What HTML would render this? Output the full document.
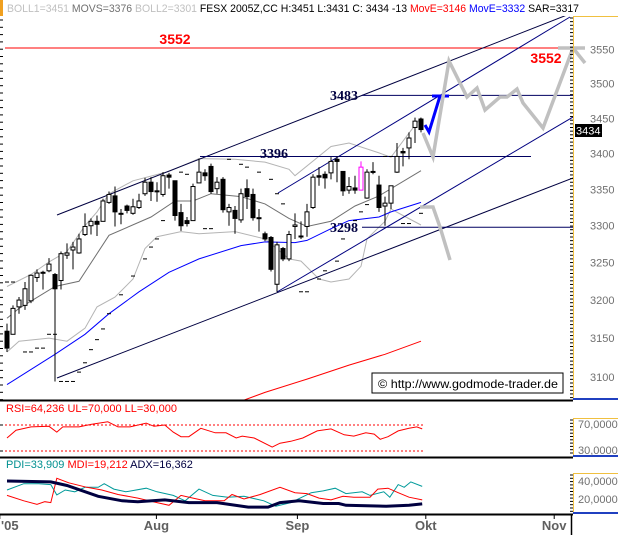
<!DOCTYPE html>
<html><head><meta charset="utf-8"><style>
html,body{margin:0;padding:0;background:#fff;}
svg{display:block;font-family:"Liberation Sans",Arial,sans-serif;}
</style></head><body>
<svg id="chart" width="618" height="535" viewBox="0 0 618 535" xmlns="http://www.w3.org/2000/svg">
<rect x="0" y="0" width="618" height="535" fill="#fff"/>
<rect x="0" y="0" width="3" height="16" fill="#f0a020"/>
<text x="7" y="12" font-size="11" textLength="572" lengthAdjust="spacingAndGlyphs"><tspan fill="#c0c0c0">BOLL1=3451 </tspan><tspan fill="#707070">MOVS=3376 </tspan><tspan fill="#c0c0c0">BOLL2=3301 </tspan><tspan fill="#000">FESX 2005Z,CC H:3451 L:3431 C: 3434 -13 </tspan><tspan fill="#ff0000">MovE=3146 </tspan><tspan fill="#0000ff">MovE=3332 </tspan><tspan fill="#000">SAR=3317</tspan></text>
<g id="main"></g>
<g id="axes"></g>
<g id="rsi"></g>
<g id="adx"></g>
</svg>
<script>
const opens  = [3159,3155,3191,3193,3199,3230,3237,3239,3234,3226,3260,3267,3263,3288,3300,3306,3306,3332,3341,3317,3327,3317,3325,3344,3360,3347,3343,3370,3362,3318,3307,3307,3359,3373,3382,3351,3364,3319,3321,3308,3351,3343,3311,3289,3284,3221,3269,3255,3299,3285,3299,3325,3369,3371,3373,3392,3375,3349,3352,3349,3338,3375,3356,3327,3331,3374,3403,3408,3437,3449];
const highs  = [3169,3193,3204,3224,3234,3241,3239,3256,3236,3265,3276,3278,3289,3317,3310,3314,3337,3347,3354,3323,3329,3337,3344,3366,3367,3360,3374,3373,3362,3330,3312,3358,3393,3378,3386,3367,3367,3330,3327,3351,3364,3351,3323,3292,3286,3278,3271,3293,3317,3306,3330,3371,3381,3375,3395,3396,3375,3367,3369,3389,3378,3388,3369,3340,3355,3415,3408,3430,3451,3451];
const lows   = [3132,3155,3182,3187,3196,3224,3214,3237,3094,3214,3255,3241,3262,3286,3288,3286,3306,3330,3299,3302,3317,3315,3323,3341,3334,3333,3340,3351,3307,3293,3299,3307,3359,3362,3344,3344,3318,3300,3289,3304,3323,3307,3292,3279,3238,3211,3252,3252,3282,3282,3285,3323,3355,3351,3364,3360,3341,3344,3344,3349,3337,3371,3319,3300,3323,3373,3382,3392,3415,3430];
const closes = [3137,3189,3200,3215,3233,3236,3236,3248,3215,3262,3263,3271,3282,3299,3306,3302,3334,3343,3319,3316,3321,3326,3334,3360,3347,3348,3369,3367,3314,3300,3303,3354,3374,3369,3347,3360,3322,3325,3310,3344,3340,3311,3310,3282,3241,3274,3255,3288,3301,3286,3319,3367,3367,3366,3389,3389,3348,3354,3349,3381,3374,3374,3325,3331,3355,3396,3401,3422,3446,3434];
const highlightIdx = [59];
const midIdx = [0,2,8,12,17,24,28,31,34,39,43,47,50,54,58,62,69];
const midVal = [3176,3189,3218,3225,3287,3312,3334,3334,3344,3340,3330,3310,3299,3306,3327,3341,3376];
const upIdx = [0,4,7,10,13,15,17,21,27,32,38,43,47,48,54,57,62,64,67,69];
const upVal = [3218,3234,3251,3265,3300,3319,3344,3362,3375,3393,3392,3388,3378,3369,3410,3415,3401,3395,3429,3451];
const loIdx = [0,2,7,10,13,15,18,21,23,25,29,32,38,43,47,49,52,54,57,59,60,63,64,66,69];
const loVal = [3132,3146,3150,3146,3163,3191,3204,3228,3269,3285,3292,3289,3292,3282,3255,3252,3228,3224,3228,3245,3282,3306,3323,3314,3301];
const blueIdx = [0,8,13,17,22,27,32,39,43,48,50,54,57,62,64,69];
const blueVal = [3090,3129,3155,3182,3211,3237,3255,3273,3278,3277,3280,3296,3307,3312,3319,3332];
const redIdx = [38,43,50,57,63,69];
const redVal = [3066,3080,3097,3115,3129,3146];
const sarIdx = [0,1,3,4,5,6,7,8,9,10,11,12,13,14,15,16,17,19,21,23,24,25,26,29,30,33,34,37,39,40,42,44,45,46,49,50,52,53,55,56,58,59,60,63,64,66,67,69];
const sarVal = [3224,3224,3132,3132,3137,3137,3155,3155,3094,3094,3094,3106,3118,3135,3148,3162,3182,3207,3232,3255,3271,3282,3307,3374,3371,3296,3296,3392,3385,3381,3374,3364,3344,3330,3211,3211,3228,3239,3252,3282,3307,3319,3329,3396,3396,3303,3303,3317];
const priceTicks = [3550,3500,3450,3400,3350,3300,3250,3200,3150,3100];
const rsiIdx = [0,1.5,4,7,8.3,9.3,12,14,16.8,18.5,20.5,23.2,24.5,26.3,27.7,29,30.3,32.3,34.7,36.5,38.2,39.2,41.2,44.2,45.5,47.3,49.3,51.7,54,56.2,57.8,59.8,61.2,62.2,63.5,65.2,67,68.3,69.2];
const rsiVal = [50,62,67,68,59,67,67,71,75,67,67,73,68,70,59,52,52,65,58,58,50,53,50,36,42,45,50,61,64,55,53,58,56,48,52,61,65,67,64];
const rsiLevels = [70,30];
const pdiIdx = [0,2.8,5.3,7.3,8.3,9.7,11.3,13,15.2,16.2,17.8,19.8,23.2,25,27.7,29.7,32,34.3,36.8,39.5,42.8,44.8,47.3,50.7,52.7,54.7,56.5,59.2,60.5,62.8,63.8,65.2,66.2,67.3,69.2];
const pdiVal = [30,37,37,36,24.5,30,28,33,33,37,31,28,32,28,24,18,31,24,22,23,18,12,16,27,29,32,26,28,24,28,22,36,33,39,34];
const mdiIdx = [0,2.8,5,6.3,7.3,8.3,10.3,13.3,15.8,18.5,21.8,25,27,29,31,33,36.2,37.5,39.5,42.2,45.5,48,50,52,54,56,57.8,60.5,61.8,63.5,65.2,67,69.2];
const mdiVal = [24,18,14,17,16,43,38,33,30,25,21,16,13,24,21,18,18,25,20,25,33,27,26,21,19,23,22,22,31,32,27,22,19];
const adxIdx = [0,7.3,10,15.2,19.2,21.8,26.3,30.3,35,40.2,43.5,45.5,48.7,52.7,55.3,56.5,63.2,67,69.2];
const adxVal = [40,39,35,23,18,17,19,16,16,11,11,16,18,15,15,13,12,13,14.5];
const oscTicksRsi = ["70,0000","30,0000"];
const oscTicksAdx = ["40,0000","20,0000"];
const months = ["'05","Aug","Sep","Okt","Nov"];
const monthIdx = [-1.2,24.9,48.4,69.8,91.2];

const NS="http://www.w3.org/2000/svg";
function mk(tag,attrs,parent){const e=document.createElementNS(NS,tag);for(const k in attrs)e.setAttribute(k,attrs[k]);parent.appendChild(e);return e;}
const xS=i=>7+6*i;
const yS=v=>49.3+(Math.log(3550)-Math.log(v))*2416;
const rY=v=>451-(v-30)*0.65;
const aY=v=>499-(v-20)*0.9;
const main=document.getElementById('main');
const axes=document.getElementById('axes');
const rsiG=document.getElementById('rsi');
const adxG=document.getElementById('adx');
const defs=mk('defs',{},main);
const cp=mk('clipPath',{id:'mclip'},defs);
mk('rect',{x:0,y:16,width:573,height:384},cp);
const plot=mk('g',{'clip-path':'url(#mclip)'},main);

function poly(idx,val,ys,attrs,parent,name){
  const pts=idx.map((i,k)=>xS(i).toFixed(1)+','+ys(val[k]).toFixed(1)).join(' ');
  const p=mk('polyline',Object.assign({points:pts,fill:'none'},attrs),parent);
  
  
  return p;
}
poly(upIdx,upVal,yS,{stroke:'#b4b4b4','stroke-width':1},plot,'bollinger-upper');
poly(loIdx,loVal,yS,{stroke:'#b4b4b4','stroke-width':1},plot,'bollinger-lower');
poly(midIdx,midVal,yS,{stroke:'#707070','stroke-width':1},plot,'bollinger-middle');
poly(blueIdx,blueVal,yS,{stroke:'#0000ff','stroke-width':1},plot,'moving-average-blue');
poly(redIdx,redVal,yS,{stroke:'#ff0000','stroke-width':1},plot,'moving-average-red');

const ann=mk('g',{},plot);


const L=(x1,y1,x2,y2,c,w,n)=>{const l=mk('line',{x1,y1,x2,y2,stroke:c,'stroke-width':w},ann);};
L(5,yS(3552),573,yS(3552),'#ff0000',1,'resistance-3552');
L(57,215,567,15,'#000040',1,'channel-upper-line');
L(278,193,570,17,'#000080',1,'channel-mid-line');
L(277,292,573,117,'#000080',1,'channel-inner-line');
L(57,378,573,178,'#000040',1,'channel-lower-line');
L(200,yS(3396),531,yS(3396),'#000060',1,'level-3396');
L(362,yS(3483),573,yS(3483),'#000060',1,'level-3483');
L(362,yS(3298),573,yS(3298),'#000060',1,'level-3298');
const gp=mk('polyline',{points:'423,133 433,157 449,61 467,97 477,88 485,110 500,97 507,97 517,89 523,103 543,128 573,48',fill:'none',stroke:'#c0c0c0','stroke-width':3.5,'stroke-linejoin':'miter'},main);
 
const gp2=mk('polyline',{points:'420,207 433,207 440,227 450,260',fill:'none',stroke:'#c0c0c0','stroke-width':3.5},plot);
 
const bp=mk('polyline',{points:'425,125 429,132 440,96',fill:'none',stroke:'#0000ff','stroke-width':3},plot);
 
mk('line',{x1:432,y1:96,x2:449,y2:96,stroke:'#0000ff','stroke-width':3},plot);

sarIdx.forEach((i,k)=>{
  const d=mk('line',{x1:xS(i)-2,x2:xS(i)+2,y1:yS(sarVal[k]),y2:yS(sarVal[k]),stroke:'#000','stroke-width':1},plot);
  
  
});
opens.forEach((o,i)=>{
  const c=closes[i],x=xS(i);
  const col=highlightIdx.includes(i)?'#ff00ff':'#000';
  const g=mk('g',{},plot);
  
  
  mk('line',{x1:x,x2:x,y1:yS(highs[i]),y2:yS(lows[i]),stroke:col,'stroke-width':1},g);
  const top=yS(Math.max(o,c)),bot=yS(Math.min(o,c));
  mk('rect',{x:x-2,y:top,width:4,height:Math.max(1,bot-top),fill:c<o?col:'#fff',stroke:col,'stroke-width':1},g);
});

const T=(x,y,s,fill,size,name,anchor,extra)=>{const t=mk('text',Object.assign({x,y,fill,'font-size':size,'font-weight':'bold','text-anchor':anchor||'start'},extra||{}),main);t.textContent=s;return t;};
T(175,44,'3552','#ff0000',14,'label-3552-left','middle');
T(546,63,'3552','#ff0000',14,'label-3552-right','middle');
T(358,100,'3483','#000040',14,'label-3483','end',{'font-family':'Liberation Serif, serif'});
T(274,158,'3396','#000040',14,'label-3396','middle',{'font-family':'Liberation Serif, serif'});
T(358,232,'3298','#000040',14,'label-3298','end',{'font-family':'Liberation Serif, serif'});
const cb=mk('rect',{x:372,y:373,width:191,height:20,fill:'#fff',stroke:'#000','stroke-width':1},main);
 
const ct=mk('text',{x:378,y:388,'font-size':12,fill:'#000',textLength:180,lengthAdjust:'spacingAndGlyphs'},main);
ct.textContent='© http://www.godmode-trader.de';
 

for(let y=20;y<400;y+=7.3){mk('line',{x1:0,x2:3,y1:y,y2:y,stroke:'#000','stroke-width':1},axes);}
const ra=mk('g',{},axes);  
mk('line',{x1:573.5,y1:16,x2:573.5,y2:400,stroke:'#f0c040','stroke-width':1},ra);
mk('line',{x1:573,y1:16.5,x2:618,y2:16.5,stroke:'#f0c040','stroke-width':1},ra);
mk('line',{x1:573,y1:399,x2:618,y2:399,stroke:'#2040c0','stroke-width':2},ra);
for(let y=18;y<400;y+=3.65){mk('line',{x1:570,x2:573,y1:y,y2:y,stroke:'#000','stroke-width':1},ra);}
priceTicks.forEach(v=>{
  const t=mk('text',{x:590,y:yS(v)+4,'font-size':11,fill:'#707070'},ra);
  t.textContent=v;
  
  
});
mk('rect',{x:575,y:124,width:27,height:13,fill:'#000'},ra);
const lt=mk('text',{x:576,y:134.5,'font-size':11,fill:'#fff'},ra); lt.textContent='3434';
 
mk('line',{x1:558,y1:48,x2:585,y2:48,stroke:'#c0c0c0','stroke-width':3.5},main);
mk('line',{x1:573,y1:48,x2:585,y2:63,stroke:'#c0c0c0','stroke-width':3.5},main);

[400.5,457.5,514.5].forEach(y=>{mk('line',{x1:0,x2:573,y1:y,y2:y,stroke:'#000','stroke-width':2},axes);});

const rt=mk('text',{x:6,y:412,'font-size':11,fill:'#ff0000'},rsiG); rt.textContent='RSI=64,236 UL=70,000 LL=30,000';
 
rsiLevels.forEach(l=>{const d=mk('line',{x1:5,x2:425,y1:rY(l),y2:rY(l),stroke:'#ff0000','stroke-width':1,'stroke-dasharray':'2,2'},rsiG);});
poly(rsiIdx,rsiVal,rY,{stroke:'#ff0000','stroke-width':1},rsiG,'rsi-line');
mk('line',{x1:573.5,y1:418,x2:573.5,y2:457,stroke:'#f0c040'},rsiG);
mk('line',{x1:573,y1:418.5,x2:618,y2:418.5,stroke:'#f0c040'},rsiG);
mk('line',{x1:573,y1:456,x2:618,y2:456,stroke:'#2040c0','stroke-width':2},rsiG);
for(let y=420;y<456;y+=3.3){mk('line',{x1:570,x2:573,y1:y,y2:y,stroke:'#000'},rsiG);}
oscTicksRsi.forEach((s,k)=>{const t=mk('text',{x:578,y:rY(rsiLevels[k])+3,'font-size':11,fill:'#707070'},rsiG);t.textContent=s;});
mk('line',{x1:0,x2:3,y1:425,y2:425,stroke:'#000'},rsiG);
mk('line',{x1:0,x2:3,y1:451,y2:451,stroke:'#000'},rsiG);

const at=mk('text',{x:6,y:468,'font-size':11},adxG);
at.innerHTML='<tspan fill="#009090">PDI=33,909 </tspan><tspan fill="#ff0000">MDI=19,212 </tspan><tspan fill="#000040">ADX=16,362</tspan>';
 
poly(pdiIdx,pdiVal,aY,{stroke:'#009a9a','stroke-width':1},adxG,'pdi-line');
poly(mdiIdx,mdiVal,aY,{stroke:'#ff0000','stroke-width':1},adxG,'mdi-line');
poly(adxIdx,adxVal,aY,{stroke:'#000040','stroke-width':3},adxG,'adx-line');
mk('line',{x1:573.5,y1:473,x2:573.5,y2:514,stroke:'#f0c040'},adxG);
mk('line',{x1:573,y1:473.5,x2:618,y2:473.5,stroke:'#f0c040'},adxG);
mk('line',{x1:573,y1:513,x2:618,y2:513,stroke:'#2040c0','stroke-width':2},adxG);
for(let y=475;y<513;y+=3.3){mk('line',{x1:570,x2:573,y1:y,y2:y,stroke:'#000'},adxG);}
[40,20].forEach((v,k)=>{const t=mk('text',{x:578,y:aY(v)+4,'font-size':11,fill:'#707070'},adxG);t.textContent=oscTicksAdx[k];});

mk('line',{x1:571.5,y1:514,x2:571.5,y2:535,stroke:'#000','stroke-width':1.5},axes);
months.forEach((m,k)=>{
  const x=xS(monthIdx[k]);
  mk('line',{x1:x,x2:x,y1:515,y2:519,stroke:'#000'},axes);
  const t=mk('text',{x:k===0?1:x,y:530,'font-size':13,'font-weight':'bold',fill:'#606060','text-anchor':k===0?'start':'middle'},axes);
  t.textContent=m;
  
  
});
</script>
</body></html>
